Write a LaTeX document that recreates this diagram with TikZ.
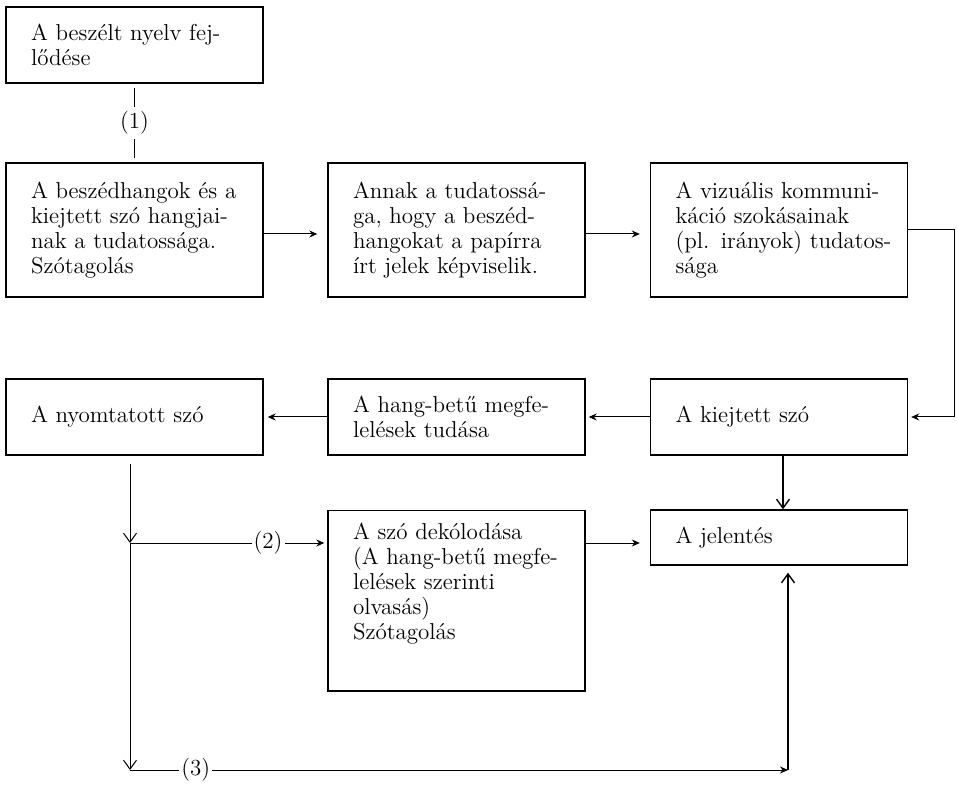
\documentclass[tikz,border=0pt]{standalone}
\usepackage{fontspec}
\usetikzlibrary{arrows.meta, positioning}

\begin{document}
\begin{tikzpicture}[
  x=0.5pt, y=-0.5pt,
  every node/.style={font=\fontsize{11.5}{12.5}\selectfont},
  box/.style={draw, line width=0.7pt, minimum width=128.5pt, text width=116pt,
              inner xsep=6.25pt, align=left, execute at begin node={\leftskip=6.25pt}},
  arr/.style={-{Stealth[length=4pt,width=3.5pt]}, line width=0.5pt},
  bigarr/.style={-{Straight Barb[length=4.5pt,width=6.5pt]}, line width=0.7pt},
  lab/.style={fill=white, inner xsep=1pt, inner ysep=2pt}
]
\useasboundingbox (0,0) rectangle (957,785);
% upper row
\node[box, minimum height=38pt] (nyelv) at (134.5,45) {A beszélt nyelv fej-\\lődése};
\node[box, minimum height=67pt] (hangok) at (134.5,230)
  {A beszédhangok és a\\kiejtett szó hangjai-\\nak a tudatossága.\\Szótagolás};
\node[box, minimum height=67pt] (jelek) at (456.5,230)
  {Annak a tudatossá-\\ga, hogy a beszéd-\\hangokat a papírra\\írt jelek képviselik.};
\node[box, minimum height=67pt] (vizualis) at (779,230)
  {A vizuális kommuni-\\káció szokásainak\\(pl. irányok) tudatos-\\sága};
% middle row
\node[box, minimum height=38pt] (nyomtatott) at (134.5,417) {A nyomtatott szó};
\node[box, minimum height=38pt] (megfeleles) at (456.5,417) {A hang-betű megfe-\\lelések tudása};
\node[box, minimum height=38pt] (kiejtett) at (779,417) {A kiejtett szó};
% lower row
\node[box, minimum height=27.5pt] (jelentes) at (779,537.5) {A jelentés};
\node[box, anchor=north, inner ysep=6pt, text depth=70pt] (dekodolas) at (456.5,510)
  {A szó dekólodása\\(A hang-betű megfe-\\lelések szerinti\\olvasás)\\Szótagolás};
\coordinate (j2) at (130,543);
\coordinate (j3) at (130,770);
\coordinate (j4) at (788,770);
% connectors
\draw[line width=0.5pt, shorten >=2pt, shorten <=2pt] (nyelv) -- node[lab]{(1)} (hangok);
\draw[arr, shorten >=5pt] ([yshift=-2pt]hangok.east) -- ([yshift=-2pt]jelek.west);
\draw[arr, shorten >=5pt] ([yshift=-2pt]jelek.east) -- ([yshift=-2pt]vizualis.west);
\draw[arr, shorten >=1.5pt] (vizualis.east) -- ++(46,0) |- (kiejtett.east);
\draw[arr, shorten >=1.5pt] (kiejtett) -- (megfeleles);
\draw[arr, shorten >=2pt] (megfeleles) -- (nyomtatott);
\draw[bigarr] ([xshift=2pt]kiejtett.south) -- ([xshift=2pt]jelentes.north);
\draw[arr, shorten >=5pt] (dekodolas.east |- j2) -- (jelentes.west |- j2);
\draw[bigarr, line width=0.5pt, shorten <=4pt] (nyomtatott.south -| j2) -- (j2);
\draw[arr, shorten >=1.5pt] (j2) -- node[lab, pos=0.7]{(2)} (dekodolas.west |- j2);
\draw[bigarr, line width=0.5pt] (j2) -- (j3);
\draw[arr] (j3) -- node[lab, pos=0.1]{(3)} (j4);
\draw[bigarr, shorten >=3.5pt] (j4) -- (jelentes.south -| j4);
\end{tikzpicture}
\end{document}
